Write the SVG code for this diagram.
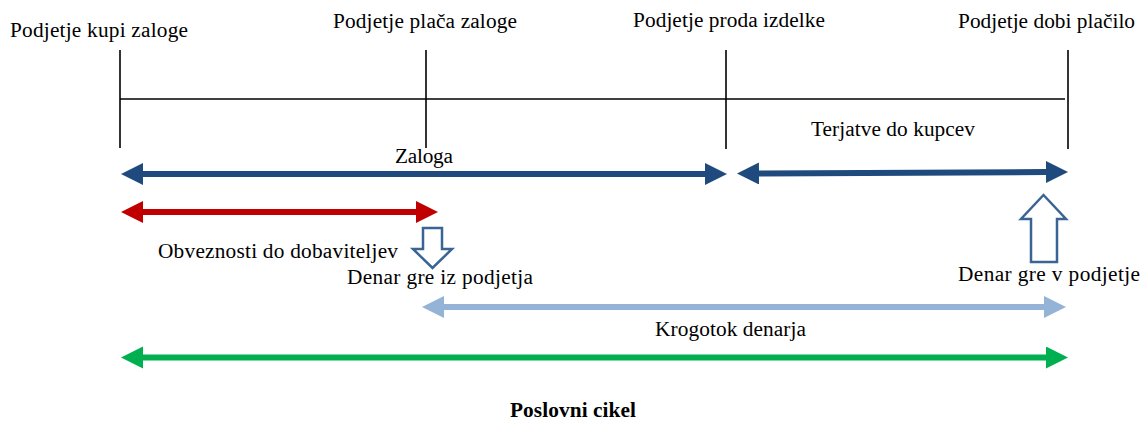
<svg xmlns="http://www.w3.org/2000/svg" width="1143" height="421" viewBox="0 0 1143 421">
<style>
text{font-family:"Liberation Serif","Times New Roman",serif;font-size:21.3px;fill:#000}
.b{font-weight:bold}
.tick{stroke:#000;stroke-width:1.6;fill:none}
.hollow{fill:#fff;stroke:#3A6494;stroke-width:2.5;stroke-linejoin:miter}
</style>
<defs>
<marker id="mBlue" markerUnits="userSpaceOnUse" markerWidth="23" markerHeight="23" refX="0" refY="11" orient="auto-start-reverse"><path d="M0,0 L22,11 L0,22 z" fill="#1F4A7E"/></marker>
<marker id="mRed" markerUnits="userSpaceOnUse" markerWidth="23" markerHeight="23" refX="0" refY="11" orient="auto-start-reverse"><path d="M0,0 L22,11 L0,22 z" fill="#C00000"/></marker>
<marker id="mLight" markerUnits="userSpaceOnUse" markerWidth="23" markerHeight="23" refX="0" refY="11" orient="auto-start-reverse"><path d="M0,0 L22,11 L0,22 z" fill="#95B3D7"/></marker>
<marker id="mGreen" markerUnits="userSpaceOnUse" markerWidth="23" markerHeight="23" refX="0" refY="11" orient="auto-start-reverse"><path d="M0,0 L22,11 L0,22 z" fill="#00B050"/></marker>
</defs>
<g id="timeline">
<line class="tick" x1="120" y1="99" x2="1065" y2="99"/>
<line class="tick" x1="120" y1="50" x2="120" y2="148"/>
<line class="tick" x1="426" y1="50" x2="426" y2="148"/>
<line class="tick" x1="726" y1="50" x2="726" y2="149"/>
<line class="tick" x1="1068" y1="50" x2="1068" y2="149"/>
</g>
<g id="labels-top">
<text x="10" y="37" textLength="178" lengthAdjust="spacing">Podjetje kupi zaloge</text>
<text x="333" y="28" textLength="184" lengthAdjust="spacing">Podjetje plača zaloge</text>
<text x="633" y="27" textLength="192" lengthAdjust="spacing">Podjetje proda izdelke</text>
<text x="958" y="28" textLength="177" lengthAdjust="spacing">Podjetje dobi plačilo</text>
</g>
<g id="connectors">
<line x1="143" y1="174" x2="705" y2="174" stroke="#1F4A7E" stroke-width="6" marker-start="url(#mBlue)" marker-end="url(#mBlue)"/>
<line x1="759" y1="173.5" x2="1046" y2="172" stroke="#1F4A7E" stroke-width="6" marker-start="url(#mBlue)" marker-end="url(#mBlue)"/>
<line x1="143" y1="212" x2="416" y2="212" stroke="#C00000" stroke-width="6" marker-start="url(#mRed)" marker-end="url(#mRed)"/>
<line x1="444" y1="307" x2="1044" y2="307" stroke="#95B3D7" stroke-width="6" marker-start="url(#mLight)" marker-end="url(#mLight)"/>
<line x1="143" y1="357.5" x2="1046" y2="357.5" stroke="#00B050" stroke-width="6" marker-start="url(#mGreen)" marker-end="url(#mGreen)"/>
</g>
<g id="arrow-out">
<path class="hollow" d="M423,228 L442,228 L442,249 L452,249 L432.5,268 L413,249 L423,249 z"/>
</g>
<g id="arrow-in">
<path class="hollow" d="M1031,262 L1057,262 L1057,219 L1066,219 L1043.5,195 L1021,219 L1031,219 z"/>
</g>
<g id="labels">
<text x="395" y="163" textLength="58" lengthAdjust="spacing">Zaloga</text>
<text x="811" y="136" textLength="164" lengthAdjust="spacing">Terjatve  do kupcev</text>
<text x="158" y="258" textLength="240" lengthAdjust="spacing">Obveznosti do dobaviteljev</text>
<text x="347" y="284" textLength="186" lengthAdjust="spacing">Denar gre  iz podjetja</text>
<text x="958" y="281" textLength="182" lengthAdjust="spacing">Denar gre  v podjetje</text>
<text x="655" y="336" textLength="151" lengthAdjust="spacing">Krogotok denarja</text>
<text class="b" x="510" y="417" textLength="126" lengthAdjust="spacing">Poslovni cikel</text>
</g>
</svg>
